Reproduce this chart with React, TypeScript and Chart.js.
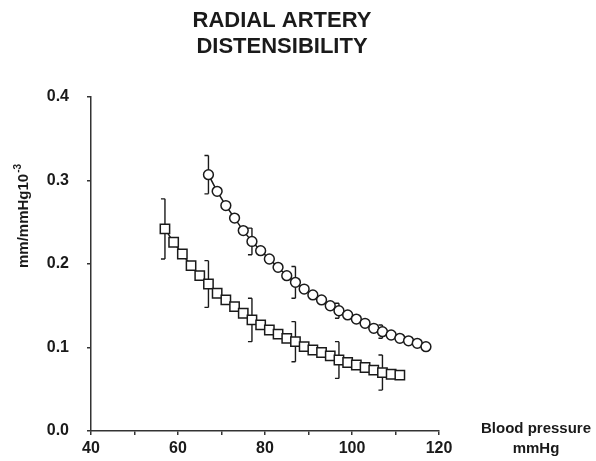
import React, { useEffect, useRef } from "react";
import { Chart, registerables } from "chart.js";

Chart.register(...registerables);

// Square series (lower curve)
const squareX = [57, 59, 61, 63, 65, 67, 69, 71, 73, 75, 77, 79, 81, 83, 85, 87, 89, 91, 93, 95, 97, 99, 101, 103, 105, 107, 109, 111];
const squareY = [0.242, 0.226, 0.212, 0.198, 0.186, 0.176, 0.165, 0.157, 0.149, 0.141, 0.133, 0.127, 0.121, 0.116, 0.111, 0.107, 0.101, 0.097, 0.094, 0.09, 0.085, 0.082, 0.079, 0.076, 0.073, 0.07, 0.068, 0.067];
// Circle series (upper curve)
const circleX = [67, 69, 71, 73, 75, 77, 79, 81, 83, 85, 87, 89, 91, 93, 95, 97, 99, 101, 103, 105, 107, 109, 111, 113, 115, 117];
const circleY = [0.307, 0.287, 0.27, 0.255, 0.24, 0.227, 0.216, 0.206, 0.196, 0.186, 0.178, 0.17, 0.163, 0.157, 0.15, 0.144, 0.139, 0.134, 0.129, 0.123, 0.119, 0.115, 0.111, 0.108, 0.105, 0.101];
// Error bars (half-widths) at selected pressures
const squareErrX = [57, 67, 77, 87, 97, 107];
const squareErr = [0.036, 0.028, 0.026, 0.024, 0.022, 0.021];
const circleErrX = [67, 77, 87, 97, 107];
const circleErr = [0.023, 0.016, 0.019, 0.009, 0.008];

const titleLines = ["RADIAL ARTERY", "DISTENSIBILITY"];
const yTitleMain = "mm/mmHg10";
const yTitleSup = "-3";
const xTitleLines = ["Blood pressure", "mmHg"];

const FONT = "'Liberation Sans', Arial, sans-serif";
const INK = "#1a1a1a";

export default function App() {
  const ref = useRef<HTMLCanvasElement | null>(null);

  useEffect(() => {
    const canvas = ref.current;
    if (!canvas) return;

    const errorBars = {
      id: "errorBars",
      beforeDatasetsDraw(chart: any) {
        const { ctx, scales } = chart;
        const xs = scales.x, ys = scales.y;
        const draw = (ex: number[], err: number[], sx: number[], sy: number[]) => {
          ex.forEach((xv, i) => {
            const idx = sx.indexOf(xv);
            if (idx < 0) return;
            const c = sy[idx];
            const px = xs.getPixelForValue(xv);
            const top = ys.getPixelForValue(c + err[i]);
            const bot = ys.getPixelForValue(c - err[i]);
            ctx.save();
            ctx.strokeStyle = INK;
            ctx.lineWidth = 1.4;
            ctx.beginPath();
            ctx.moveTo(px, top);
            ctx.lineTo(px, bot);
            ctx.moveTo(px - 4, top);
            ctx.lineTo(px, top);
            ctx.moveTo(px - 4, bot);
            ctx.lineTo(px, bot);
            ctx.stroke();
            ctx.restore();
          });
        };
        draw(squareErrX, squareErr, squareX, squareY);
        draw(circleErrX, circleErr, circleX, circleY);
      },
    };

    const texts = {
      id: "texts",
      afterDraw(chart: any) {
        const ctx = chart.ctx;
        ctx.save();
        ctx.fillStyle = INK;
        // Title
        ctx.font = `bold 22px ${FONT}`;
        ctx.textAlign = "center";
        ctx.textBaseline = "middle";
        ctx.fillText(titleLines[0], 282, 21);
        ctx.fillText(titleLines[1], 282, 47);
        // X title
        ctx.font = `bold 15px ${FONT}`;
        ctx.fillText(xTitleLines[0], 536, 429);
        ctx.fillText(xTitleLines[1], 536, 449);
        // Y title rotated
        ctx.save();
        ctx.translate(28, 268);
        ctx.rotate(-Math.PI / 2);
        ctx.textAlign = "left";
        ctx.textBaseline = "alphabetic";
        ctx.font = `bold 15px ${FONT}`;
        ctx.fillText(yTitleMain, 0, 0);
        const w = ctx.measureText(yTitleMain).width;
        ctx.font = `bold 10px ${FONT}`;
        ctx.fillText(yTitleSup, w + 1, -7);
        ctx.restore();
        ctx.restore();
      },
    };

    const chart = new Chart(canvas, {
      type: "line",
      data: {
        datasets: [
          {
            label: "squares",
            data: squareX.map((x, i) => ({ x, y: squareY[i] })),
            borderColor: INK,
            borderWidth: 1.5,
            backgroundColor: "#ffffff",
            pointStyle: "rect",
            pointRadius: 6.6,
            pointBorderWidth: 1.5,
            pointBorderColor: INK,
            pointBackgroundColor: "#ffffff",
            tension: 0,
          },
          {
            label: "circles",
            data: circleX.map((x, i) => ({ x, y: circleY[i] })),
            borderColor: INK,
            borderWidth: 1.5,
            backgroundColor: "#ffffff",
            pointStyle: "circle",
            pointRadius: 4.9,
            pointBorderWidth: 1.5,
            pointBorderColor: INK,
            pointBackgroundColor: "#ffffff",
            tension: 0,
          },
        ],
      },
      options: {
        animation: false,
        responsive: false,
        devicePixelRatio: 1,
        layout: { padding: { top: 97, right: 157, left: 0, bottom: 0 } },
        plugins: { legend: { display: false }, tooltip: { enabled: false }, title: { display: false } },
        scales: {
          x: {
            type: "linear",
            min: 40,
            max: 120,
            afterFit: (s: any) => { s.height = 30; },
            ticks: {
              stepSize: 10,
              autoSkip: false,
              maxRotation: 0,
              padding: 4,
              color: INK,
              font: { family: FONT, size: 16, weight: "bold" },
              callback: (v: any) => (Number(v) % 20 === 0 ? String(v) : ""),
            },
            grid: { drawOnChartArea: false, drawTicks: true, tickLength: 4, color: "#333", lineWidth: 1.5 },
            border: { display: true, color: "#333", width: 1.5 },
          },
          y: {
            type: "linear",
            min: 0,
            max: 0.4,
            afterFit: (s: any) => { s.width = 91; },
            ticks: {
              stepSize: 0.1,
              padding: 18,
              color: INK,
              font: { family: FONT, size: 16, weight: "bold" },
              callback: (v: any) => Number(v).toFixed(1),
            },
            grid: { drawOnChartArea: false, drawTicks: true, tickLength: 4, color: "#333", lineWidth: 1.5 },
            border: { display: true, color: "#333", width: 1.5 },
          },
        },
      },
      plugins: [errorBars, texts],
    } as any);

    return () => chart.destroy();
  }, []);

  return (
    <div style={{ position: "fixed", left: 0, top: 0, width: 596, height: 461, background: "#fff" }}>
      <canvas ref={ref} width={596} height={461} style={{ width: 596, height: 461, display: "block" }} />
    </div>
  );
}
